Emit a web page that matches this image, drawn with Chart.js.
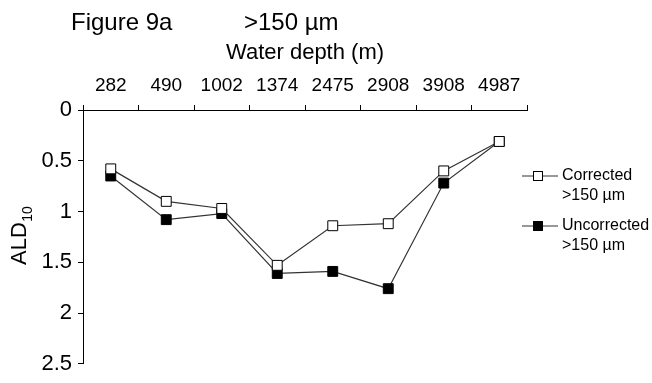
<!DOCTYPE html>
<html>
<head>
<meta charset="utf-8">
<script src="https://cdn.jsdelivr.net/npm/chart.js@4/dist/chart.umd.min.js"></script>
<style>
  html, body { margin: 0; padding: 0; background: #fff; }
  #wrap { width: 652px; height: 383px; }
</style>
</head>
<body>
<div id="wrap"><canvas id="chart" width="652" height="383"></canvas></div>
<script>
// Figure 9a - ALD10 vs water depth, >150 um fraction

const depths = ["282", "490", "1002", "1374", "2475", "2908", "3908", "4987"];
const corrected = [0.58, 0.90, 0.97, 1.53, 1.14, 1.12, 0.60, 0.31];
const uncorrected = [0.65, 1.08, 1.02, 1.61, 1.59, 1.76, 0.72, 0.31];
const yTicks = [0, 0.5, 1, 1.5, 2, 2.5];

const FONT = "Arial, 'Liberation Sans', sans-serif";
const LINE = "#333";

// title, y title with subscript, and the legend on the right
const annotations = {
  id: "annotations",
  afterDraw(chart) {
    const ctx = chart.ctx;
    ctx.save();
    ctx.fillStyle = "#000";
    ctx.textBaseline = "middle";
    ctx.textAlign = "left";
    ctx.font = "24px " + FONT;
    ctx.fillText("Figure 9a", 71, 23);
    ctx.fillText(">150 \u00b5m", 244, 23);

    // y axis title: ALD with subscript 10
    ctx.save();
    ctx.translate(20, 265);
    ctx.rotate(-Math.PI / 2);
    ctx.textAlign = "left";
    ctx.font = "22px " + FONT;
    const w = ctx.measureText("ALD").width;
    ctx.fillText("ALD", 0, 0);
    ctx.font = "14px " + FONT;
    ctx.fillText("10", w + 0.5, 8);
    ctx.restore();

    // legend
    const items = [
      { ds: chart.data.datasets[0], y: 176 },
      { ds: chart.data.datasets[1], y: 226 },
    ];
    items.forEach(({ ds, y }) => {
      ctx.strokeStyle = ds.borderColor;
      ctx.lineWidth = 1;
      ctx.beginPath();
      ctx.moveTo(522, y);
      ctx.lineTo(558, y);
      ctx.stroke();
      ctx.fillStyle = ds.pointBackgroundColor;
      ctx.strokeStyle = "#000";
      ctx.fillRect(533, y - 5, 10, 10);
      ctx.strokeRect(533.5, y - 4.5, 9, 9);
      ctx.fillStyle = "#000";
      ctx.font = "16px " + FONT;
      ctx.textAlign = "left";
      ctx.fillText(ds.label, 562, y);
      ctx.fillText(">150 \u00b5m", 562, y + 20);
    });
    ctx.restore();
  },
};

new Chart(document.getElementById("chart"), {
  type: "line",
  data: {
    labels: depths,
    datasets: [
      {
        label: "Corrected",
        data: corrected,
        borderColor: LINE,
        borderWidth: 1.2,
        pointStyle: "rect",
        pointRadius: 7,
        pointBackgroundColor: "#fff",
        pointBorderColor: "#000",
        pointBorderWidth: 1,
        tension: 0,
      },
      {
        label: "Uncorrected",
        data: uncorrected,
        borderColor: LINE,
        borderWidth: 1.2,
        pointStyle: "rect",
        pointRadius: 7,
        pointBackgroundColor: "#000",
        pointBorderColor: "#000",
        pointBorderWidth: 1,
        tension: 0,
      },
    ],
  },
  options: {
    responsive: false,
    animation: false,
    layout: { padding: { left: 0, top: 0, right: 125, bottom: 14 } },
    plugins: {
      legend: { display: false },
      tooltip: { enabled: false },
    },
    scales: {
      x: {
        position: "top",
        offset: true,
        afterFit(scale) { scale.height = 110; },
        grid: {
          offset: true,
          drawOnChartArea: false,
          drawTicks: true,
          tickLength: 5,
          color: "#000",
        },
        border: { display: true, color: "#000", width: 1 },
        ticks: {
          color: "#000",
          font: { family: FONT, size: 19 },
          padding: 8,
          maxRotation: 0,
        },
        title: {
          display: true,
          text: "Water depth (m)",
          color: "#000",
          font: { family: FONT, size: 22 },
          padding: { top: 40, bottom: 0 },
        },
      },
      y: {
        reverse: true,
        min: yTicks[0],
        max: yTicks[yTicks.length - 1],
        afterFit(scale) { scale.width = 83; },
        afterBuildTicks(scale) {
          scale.ticks = yTicks.map((v) => ({ value: v }));
        },
        grid: {
          drawOnChartArea: false,
          drawTicks: true,
          tickLength: 5,
          color: "#000",
        },
        border: { display: true, color: "#000", width: 1 },
        ticks: {
          color: "#000",
          font: { family: FONT, size: 22 },
          padding: 6,
          callback: (v) => String(v),
        },
      },
    },
  },
  plugins: [annotations],
});
</script>
</body>
</html>
